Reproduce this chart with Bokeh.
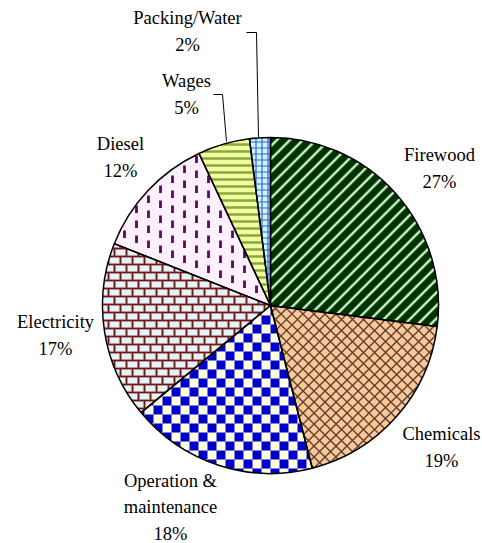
import math
from bokeh.plotting import figure
from bokeh.models import Range1d
from bokeh.core.properties import value
from bokeh.embed import file_html
from bokeh.resources import INLINE

# ---- data ----
categories = ["Firewood", "Chemicals", "Operation &\nmaintenance", "Electricity",
              "Diesel", "Wages", "Packing/Water"]
shares = [27, 19, 18, 17, 12, 5, 2]

# ---- layout (page pixels, y measured downward) ----
W, H = 482, 543
def Y(ypix):
    return H - ypix

CXp, CYp, R = 270, 305, 168
label_pos = [(439, 168), (441, 447), (170, 507), (55, 335),
             (120, 157), (186, 94), (187, 31)]
leaders = [None, None, None, None, None,
           ([213, 222, 226], [94, 94, 141]),
           ([246, 256, 258], [32, 32, 137])]

fills = ["#003300", "#FAC896", "#FFFFDD", "#DDF8F8", "#FFF0FF", "#F2FF9E", "#CCF5FF"]
builtin_hatch = [None, None, None, None, None,
                 dict(hatch_pattern="horizontal_line", hatch_color="#8BA542",
                      hatch_scale=7, hatch_weight=2.5),
                 dict(hatch_pattern="cross", hatch_color="#3366CC",
                      hatch_scale=6, hatch_weight=1.2)]

FONT = value("'Liberation Serif', 'Times New Roman', serif")

# ---- geometry helpers (pixel space) ----
def wedge_poly(t0, t1):
    pts = [(CXp, CYp)]
    n = max(2, int(math.ceil(t1 - t0)) + 1)
    for i in range(n):
        t = math.radians(t0 + (t1 - t0) * i / (n - 1))
        pts.append((CXp + R * math.sin(t), CYp - R * math.cos(t)))
    return pts

def halfplanes(poly):
    cx = sum(p[0] for p in poly) / len(poly)
    cy = sum(p[1] for p in poly) / len(poly)
    hp = []
    for i in range(len(poly)):
        a = poly[i]
        b = poly[(i + 1) % len(poly)]
        ex, ey = b[0] - a[0], b[1] - a[1]
        if ex * ex + ey * ey < 1e-9:
            continue
        s = ex * (cy - a[1]) - ey * (cx - a[0])
        hp.append((a, ex, ey, 1 if s > 0 else -1))
    return hp

def side(h, p):
    a, ex, ey, sg = h
    return sg * (ex * (p[1] - a[1]) - ey * (p[0] - a[0]))

def lerp(p, q, t):
    return (p[0] + (q[0] - p[0]) * t, p[1] + (q[1] - p[1]) * t)

def clip_seg(p0, p1, hp):
    t0, t1 = 0.0, 1.0
    for h in hp:
        f0, f1 = side(h, p0), side(h, p1)
        if f0 < 0 and f1 < 0:
            return None
        if f0 >= 0 and f1 >= 0:
            continue
        t = f0 / (f0 - f1)
        if f0 < 0:
            t0 = max(t0, t)
        else:
            t1 = min(t1, t)
        if t0 >= t1:
            return None
    return lerp(p0, p1, t0), lerp(p0, p1, t1)

def clip_poly(subj, hp):
    out = list(subj)
    for h in hp:
        if not out:
            break
        inp, out = out, []
        for i in range(len(inp)):
            cur, prev = inp[i], inp[i - 1]
            fc, fp = side(h, cur), side(h, prev)
            if fc >= 0:
                if fp < 0:
                    out.append(lerp(prev, cur, fp / (fp - fc)))
                out.append(cur)
            elif fp >= 0:
                out.append(lerp(prev, cur, fp / (fp - fc)))
    return out

def bbox(poly):
    xs = [p[0] for p in poly]
    ys = [p[1] for p in poly]
    return min(xs), min(ys), max(xs), max(ys)

def diag_lines(poly, s, slope):
    hp = halfplanes(poly)
    x0, y0, x1, y1 = bbox(poly)
    segs = []
    if slope > 0:
        cmin, cmax = x0 + y0, x1 + y1
    else:
        cmin, cmax = x0 - y1, x1 - y0
    c = math.floor(cmin / s) * s
    while c <= cmax + s:
        if slope > 0:
            a, b = (x0 - 5, c - (x0 - 5)), (x1 + 5, c - (x1 + 5))
        else:
            a, b = (x0 - 5, (x0 - 5) - c), (x1 + 5, (x1 + 5) - c)
        r = clip_seg(a, b, hp)
        if r:
            segs.append(r)
        c += s
    return segs

def to_ml(segs):
    return [[a[0], b[0]] for a, b in segs], [[Y(a[1]), Y(b[1])] for a, b in segs]

p = figure(width=W, height=H, x_range=Range1d(0, W), y_range=Range1d(0, H),
           output_backend="svg", toolbar_location=None, min_border=0,
           outline_line_color=None, background_fill_color="white")
p.axis.visible = False
p.grid.visible = False

total = sum(shares)
bounds = []
cum = 0
for s in shares:
    bounds.append((cum / total * 360, (cum + s) / total * 360))
    cum += s

# slice fills
for (t0, t1), fc, bh in zip(bounds, fills, builtin_hatch):
    kw = bh or {}
    p.wedge(x=CXp, y=Y(CYp), radius=R,
            start_angle=math.radians(90 - t1), end_angle=math.radians(90 - t0),
            fill_color=fc, line_color=None, **kw)

polys = [wedge_poly(t0, t1) for t0, t1 in bounds]

# Firewood: light diagonal stripes on dark green
segs = diag_lines(polys[0], 13, +1)
xs, ys = to_ml(segs)
p.multi_line(xs, ys, line_color="#4A8A4A", line_width=3.4)
p.multi_line(xs, ys, line_color="#F0FFF0", line_width=1.5)

# Chemicals: brown diagonal cross
segs = diag_lines(polys[1], 11, +1) + diag_lines(polys[1], 11, -1)
xs, ys = to_ml(segs)
p.multi_line(xs, ys, line_color="#5C4033", line_width=1.4)

# Operation & maintenance: blue checkerboard
hp = halfplanes(polys[2])
x0, y0, x1, y1 = bbox(polys[2])
cs = 9
pxs, pys = [], []
i = math.floor(x0 / cs)
while i * cs <= x1:
    j = math.floor(y0 / cs)
    while j * cs <= y1:
        if (i + j) % 2 == 0:
            sq = [(i * cs, j * cs), ((i + 1) * cs, j * cs),
                  ((i + 1) * cs, (j + 1) * cs), (i * cs, (j + 1) * cs)]
            cl = clip_poly(sq, hp)
            if len(cl) >= 3:
                pxs.append([q[0] for q in cl])
                pys.append([Y(q[1]) for q in cl])
        j += 1
    i += 1
p.patches(pxs, pys, fill_color="#0000CC", line_color=None)

# Electricity: bricks
hp = halfplanes(polys[3])
x0, y0, x1, y1 = bbox(polys[3])
rh, bw = 8, 12
segs = []
r = math.floor(y0 / rh)
while r * rh <= y1:
    y = r * rh
    s_ = clip_seg((x0 - 5, y), (x1 + 5, y), hp)
    if s_:
        segs.append(s_)
    off = (r % 2) * bw / 2
    k = math.floor((x0 - off) / bw)
    while k * bw + off <= x1:
        x = k * bw + off
        s_ = clip_seg((x, y), (x, y + rh), hp)
        if s_:
            segs.append(s_)
        k += 1
    r += 1
xs, ys = to_ml(segs)
p.multi_line(xs, ys, line_color="#EBB0B8", line_width=3.2)
p.multi_line(xs, ys, line_color="#6B1A1A", line_width=1.6)

# Diesel: purple vertical dashes
hp = halfplanes(polys[4])
x0, y0, x1, y1 = bbox(polys[4])
segs = []
k = math.floor(x0 / 12)
while k * 12 <= x1:
    x = k * 12 + 4
    ph = (k * 5) % 15
    j = math.floor((y0 - ph) / 15) - 1
    while j * 15 + ph <= y1:
        y = j * 15 + ph
        a, b = (x, y), (x, y + 7.5)
        if all(side(h, a) > 1.5 and side(h, b) > 1.5 for h in hp):
            segs.append((a, b))
        j += 1
    k += 1
xs, ys = to_ml(segs)
p.multi_line(xs, ys, line_color="#5A0A5A", line_width=2.8)

# slice outlines on top
for (t0, t1) in bounds:
    p.wedge(x=CXp, y=Y(CYp), radius=R,
            start_angle=math.radians(90 - t1), end_angle=math.radians(90 - t0),
            fill_color=None, line_color="black", line_width=1.5)

for (lx, ly), name, s, ld in zip(label_pos, categories, shares, leaders):
    p.text(x=[lx], y=[Y(ly)], text=[f"{name}\n{s}%"],
           text_font=FONT, text_font_size="18.5px",
           text_align="center", text_baseline="middle", text_line_height=1.33,
           text_color="black")
    if ld is not None:
        p.line(x=ld[0], y=[Y(v) for v in ld[1]], line_color="black", line_width=1)

open("out.html", "w").write(file_html(p, INLINE))
